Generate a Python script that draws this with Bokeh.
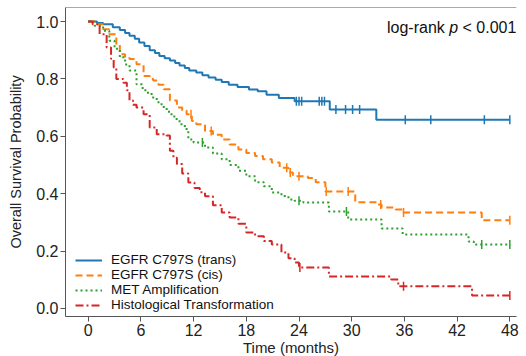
import numpy as np
from bokeh.plotting import figure
from bokeh.models import (Range1d, Legend, LegendItem, Label, Span, FixedTicker,
                          CustomJSTickFormatter)
from bokeh.embed import file_html
from bokeh.resources import INLINE

# ---------------- data ----------------
end_time = 48.0

trans_t = [0, 1.0, 1.7, 2.8, 3.6, 4.2, 4.7, 5.3, 5.8, 6.4, 7.0, 7.6, 8.1, 8.7, 9.3, 9.9,
           10.4, 11.0, 11.5, 12.3, 13.0, 13.7, 14.5, 15.2, 16.0, 17.0, 18.3, 19.3, 20.3,
           21.7, 23.5, 27.5, 32.8]
trans_s = [1.0, 0.995, 0.99, 0.98, 0.97, 0.96, 0.95, 0.94, 0.927, 0.915, 0.90, 0.89, 0.88,
           0.872, 0.864, 0.855, 0.847, 0.838, 0.829, 0.822, 0.813, 0.805, 0.797, 0.789,
           0.78, 0.772, 0.763, 0.757, 0.745, 0.733, 0.722, 0.693, 0.658]
trans_cens = [23.7, 24.0, 24.3, 26.3, 26.6, 26.9, 28.2, 29.3, 30.1, 30.9, 36.1, 39.0, 45.1, 48.0]

cis_t = [0, 1.0, 1.7, 2.4, 3.2, 3.6, 4.2, 4.7, 5.5, 6.3, 7.0, 7.4, 8.0, 8.6, 9.3, 10.1,
         10.7, 11.2, 11.8, 12.3, 13.3, 14.2, 15.2, 16.1, 17.1, 18.0, 19.0, 19.9, 20.9,
         21.8, 22.8, 23.3, 25.0, 25.9, 27.0, 30.4, 33.0, 33.4, 35.0, 35.9, 44.8]
cis_s = [1.0, 0.99, 0.973, 0.956, 0.921, 0.886, 0.876, 0.869, 0.851, 0.81, 0.80, 0.794,
         0.78, 0.764, 0.725, 0.70, 0.69, 0.677, 0.653, 0.642, 0.618, 0.605, 0.589, 0.571,
         0.554, 0.542, 0.531, 0.52, 0.509, 0.49, 0.474, 0.461, 0.455, 0.44, 0.408, 0.37,
         0.362, 0.352, 0.345, 0.334, 0.307]
cis_cens = [11.7, 14.0, 22.6, 23.0, 24.0, 27.1, 29.6, 33.3, 35.9, 48.0]

met_t = [0, 0.7, 1.7, 2.4, 3.0, 3.6, 4.2, 4.7, 5.5, 6.2, 6.8, 7.4, 8.0, 8.6, 9.2, 9.8,
         10.4, 11.0, 11.4, 12.0, 13.3, 14.2, 15.2, 16.1, 17.1, 18.0, 19.0, 20.0, 20.9,
         22.0, 22.8, 23.5, 24.5, 27.4, 29.6, 33.4, 35.8, 43.3, 43.9]
met_s = [1.0, 0.985, 0.968, 0.933, 0.905, 0.875, 0.85, 0.829, 0.781, 0.76, 0.747, 0.73,
         0.712, 0.695, 0.677, 0.66, 0.642, 0.625, 0.589, 0.578, 0.561, 0.54, 0.52, 0.5,
         0.48, 0.461, 0.44, 0.426, 0.404, 0.392, 0.38, 0.375, 0.369, 0.338, 0.31, 0.279,
         0.258, 0.233, 0.223]
met_cens = [13.0, 24.0, 29.4, 44.8, 48.0]

ht_t = [0, 0.5, 1.3, 2.1, 2.6, 2.9, 3.2, 4.0, 4.4, 4.7, 5.1, 5.5, 6.3, 7.0, 7.8, 8.9, 9.3,
        9.7, 10.1, 10.7, 11.4, 12.1, 12.7, 13.3, 14.2, 15.2, 16.1, 17.1, 18.0, 19.0, 20.0,
        20.9, 22.0, 22.8, 23.5, 24.0, 27.4, 34.5, 35.3, 43.7]
ht_s = [1.0, 0.99, 0.956, 0.909, 0.87, 0.84, 0.80, 0.787, 0.76, 0.725, 0.71, 0.70, 0.677,
        0.631, 0.607, 0.603, 0.55, 0.525, 0.503, 0.47, 0.439, 0.42, 0.405, 0.391, 0.36,
        0.334, 0.317, 0.295, 0.265, 0.252, 0.235, 0.223, 0.195, 0.175, 0.16, 0.143, 0.111,
        0.101, 0.077, 0.045]
ht_cens = [24.1, 35.9, 48.0]

labels = ["EGFR C797S (trans)", "EGFR C797S (cis)", "MET Amplification",
          "Histological Transformation"]
x_ticks = [0, 6, 12, 18, 24, 30, 36, 42, 48]
y_ticks = [0.0, 0.2, 0.4, 0.6, 0.8, 1.0]
annot_parts = ["log-rank", "p", "< 0.001"]

# ---------------- styling ----------------
colors = ["#1f77b4", "#ff7f0e", "#2ca02c", "#d62728"]
dashes = ["solid", "7 4", "2 3", "8 3 2 3"]
FONT = "Liberation Sans"
Y_END = 1.0488

p = figure(frame_width=451, frame_height=309, output_backend="svg",
           toolbar_location=None, min_border_left=65, min_border_right=4,
           min_border_top=7, min_border_bottom=39)
p.x_range = Range1d(-2.585, 48.76)
p.y_range = Range1d(-0.028, Y_END)
p.xgrid.visible = False
p.ygrid.visible = False
p.outline_line_color = None
p.background_fill_color = "white"

series = [(trans_t, trans_s, trans_cens), (cis_t, cis_s, cis_cens),
          (met_t, met_s, met_cens), (ht_t, ht_s, ht_cens)]
items = []
for (t, s, cens), col, dash, lab in zip(series, colors, dashes, labels):
    tt = list(t) + [end_time]
    ss = list(s) + [s[-1]]
    r = p.step(tt, ss, mode="after", line_color=col, line_width=2, line_dash=dash)
    idx = np.searchsorted(np.array(t), np.array(cens), side="right") - 1
    cy = np.array(s)[idx]
    p.scatter(cens, cy, marker="dash", angle=np.pi / 2, size=9, line_color=col,
              line_width=1.5)
    items.append(LegendItem(label=lab, renderers=[r]))

legend = Legend(items=items, location=(10, 4), border_line_color=None,
                background_fill_alpha=0, padding=0, margin=0, spacing=-2,
                glyph_width=27, glyph_height=14, label_height=14, label_standoff=9,
                label_text_font=FONT, label_text_font_size="13.5px",
                label_text_color="#111111")
p.add_layout(legend, "center")

for ax in (p.xaxis[0], p.yaxis[0]):
    ax.axis_line_color = "#555555"
    ax.major_tick_line_color = "#555555"
    ax.minor_tick_line_color = None
    ax.major_tick_out = 5
    ax.major_tick_in = 0
    ax.major_label_text_font = FONT
    ax.major_label_text_font_size = "16px"
    ax.major_label_text_color = "#222222"
    ax.axis_label_text_font = FONT
    ax.axis_label_text_font_size = "15px"
    ax.axis_label_text_font_style = "normal"
    ax.axis_label_text_color = "#222222"
    ax.major_label_standoff = 2

p.xaxis[0].ticker = FixedTicker(ticks=x_ticks)
p.yaxis[0].ticker = FixedTicker(ticks=y_ticks)
p.xaxis[0].axis_label = "Time (months)"
p.yaxis[0].axis_label = "Overall Survival Probability"
p.yaxis[0].axis_label_text_font_size = "14.5px"
p.xaxis[0].axis_label_standoff = 0
p.yaxis[0].axis_label_standoff = 9
p.yaxis[0].formatter = CustomJSTickFormatter(code="return tick.toFixed(1);")

p.add_layout(Span(location=Y_END, dimension="width", line_color="#555555",
                  line_width=1))

# annotation, right-aligned, with italic p
FS = 16
ax_x, ax_y = 48.75, 0.98
w_tail = (0.278 + 0.584 + 0.278 + 0.556 + 0.278 + 3 * 0.556) * FS  # " < 0.001"
w_p = 0.556 * FS
w_sp = 0.278 * FS
for txt, style, off in [(annot_parts[2], "normal", 0),
                        (annot_parts[1], "italic", -(w_tail - 0.278 * FS) - w_sp),
                        (annot_parts[0], "normal", -(w_tail - 0.278 * FS) - w_sp - w_p - w_sp)]:
    p.add_layout(Label(x=ax_x, y=ax_y, x_offset=off, text=txt, text_align="right",
                       text_baseline="middle", text_font=FONT,
                       text_font_size=f"{FS}px", text_font_style=style,
                       text_color="#111111"))

open("out.html", "w").write(file_html(p, INLINE))
